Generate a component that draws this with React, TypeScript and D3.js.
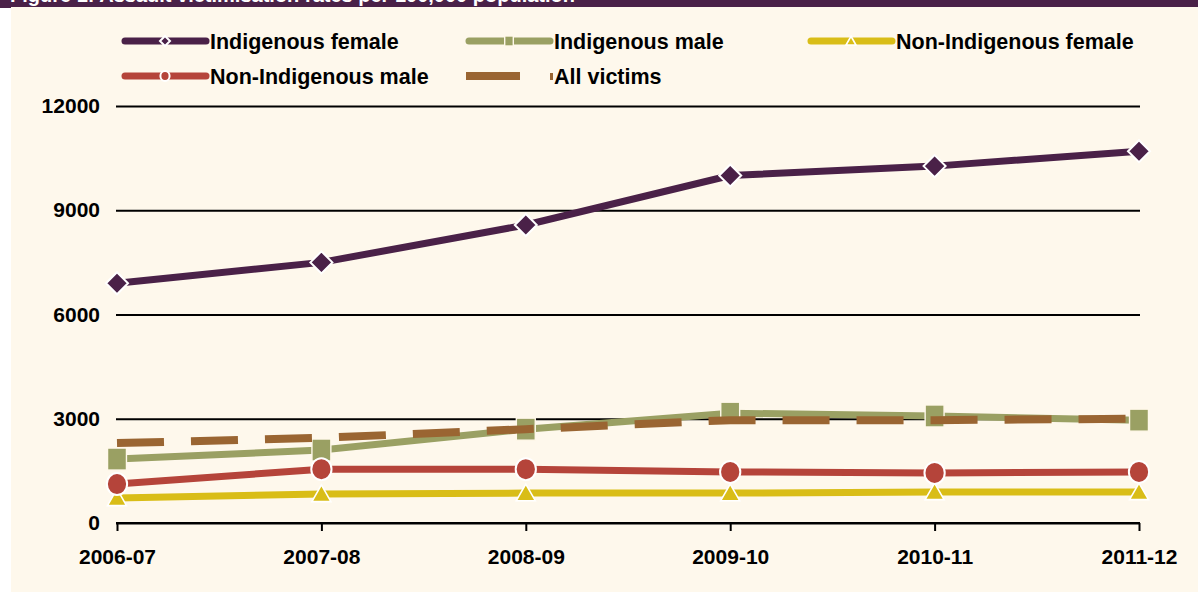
import { useRef, useEffect } from 'react';
import * as d3 from 'd3';

// values
const years = ['2006-07', '2007-08', '2008-09', '2009-10', '2010-11', '2011-12'];
const indigenousFemale = [6900, 7500, 8575, 10000, 10270, 10700];
const indigenousMale = [1840, 2100, 2700, 3160, 3080, 2960];
const nonIndigenousFemale = [720, 835, 860, 860, 890, 890];
const nonIndigenousMale = [1120, 1550, 1550, 1470, 1440, 1470];
const allVictims = [2300, 2450, 2700, 2960, 2960, 3000];
const yTicks = [0, 3000, 6000, 9000, 12000];

const seriesNames = ['Indigenous female', 'Indigenous male', 'Non-Indigenous female', 'Non-Indigenous male', 'All victims'];
const seriesValues = [indigenousFemale, indigenousMale, nonIndigenousFemale, nonIndigenousMale, allVictims];
const seriesColors = ['#4a2148', '#9aa063', '#d9bd17', '#b5443a', '#9a6532'];
const seriesMarkers = ['diamond', 'square', 'triangle', 'circle', 'none'];

const W = 1198;
const H = 592;
const FONT = '"Liberation Sans", Arial, sans-serif';

const drawMarker = (g, type, color, s, strokeW) => {
  if (type === 'diamond') {
    g.append('path').attr('d', `M0,${-s} L${s},0 L0,${s} L${-s},0 Z`)
      .attr('fill', color).attr('stroke', '#fff').attr('stroke-width', strokeW);
  } else if (type === 'square') {
    g.append('rect').attr('x', -s * 0.86).attr('y', -s).attr('width', s * 1.72).attr('height', s * 2)
      .attr('fill', color).attr('stroke', '#fff8ea').attr('stroke-width', strokeW * 0.7);
  } else if (type === 'circle') {
    g.append('ellipse').attr('rx', s * 0.92).attr('ry', s)
      .attr('fill', color).attr('stroke', '#fff').attr('stroke-width', strokeW);
  } else if (type === 'triangle') {
    g.append('path').attr('d', `M0,${-s * 0.95} L${s},${s * 0.8} L${-s},${s * 0.8} Z`)
      .attr('fill', color).attr('stroke', '#fff').attr('stroke-width', strokeW * 0.8);
  }
};

const App = () => {
  const svgRef = useRef();

  useEffect(() => {
    const svg = d3.select(svgRef.current);
    svg.selectAll('*').remove();

    // banner (title is cut off at the top in the source) + background
    svg.append('rect').attr('x', 0).attr('y', 0).attr('width', W).attr('height', 8).attr('fill', '#4a2148');
    svg.append('text')
      .attr('x', 10).attr('y', 2)
      .attr('fill', '#fff').attr('font-family', FONT).attr('font-size', 20).attr('font-weight', 'bold')
      .text('Figure 1: Assault victimisation rates per 100,000 population');
    svg.append('rect').attr('x', 11).attr('y', 7).attr('width', W - 11).attr('height', H - 7).attr('fill', '#fef8ec');

    const x = d3.scalePoint().domain(years).range([117, 1139]);
    const y = d3.scaleLinear().domain([0, 12000]).range([523, 106]);

    const chart = svg.append('g');

    // grid lines
    chart.append('g')
      .attr('transform', 'translate(116,0)')
      .call(d3.axisLeft(y).tickValues(yTicks).tickSize(-1024).tickFormat(() => ''))
      .call(g => g.select('.domain').remove())
      .selectAll('line').attr('stroke', '#000').attr('stroke-width', 2);

    // y labels
    chart.selectAll('.ylab').data(yTicks).enter().append('text')
      .attr('x', 100).attr('y', d => y(d) + 7)
      .attr('text-anchor', 'end')
      .attr('font-family', FONT).attr('font-size', 21).attr('font-weight', 'bold').attr('fill', '#000')
      .text(d => d);

    // x axis
    const xAxis = chart.append('g')
      .attr('transform', `translate(0,${y(0)})`)
      .call(d3.axisBottom(x).tickSize(8).tickSizeOuter(0).tickPadding(18));
    xAxis.select('.domain').attr('stroke', '#000').attr('stroke-width', 2).attr('d', 'M116,0H1140');
    xAxis.selectAll('line').attr('stroke', '#000').attr('stroke-width', 2);
    xAxis.selectAll('text')
      .attr('font-family', FONT).attr('font-size', 21).attr('font-weight', 'bold').attr('fill', '#000');

    const line = d3.line().x((d, i) => x(years[i])).y(d => y(d));

    seriesValues.forEach((vals, si) => {
      const color = seriesColors[si];
      const path = chart.append('path')
        .attr('d', line(vals))
        .attr('fill', 'none')
        .attr('stroke', color)
        .attr('stroke-width', 7);
      if (seriesMarkers[si] === 'none') {
        path.attr('stroke-dasharray', '47,27').attr('stroke-width', 8);
      }
      vals.forEach((v, i) => {
        const m = chart.append('g').attr('transform', `translate(${x(years[i])},${y(v)})`);
        drawMarker(m, seriesMarkers[si], color, seriesMarkers[si] === 'triangle' ? 9.5 : 11, 2);
      });
    });

    // legend
    const legendPos = [
      [122, 41], [466, 41], [808, 41],
      [122, 76], [466, 76],
    ];
    seriesNames.forEach((name, si) => {
      const [lx, ly] = legendPos[si];
      const color = seriesColors[si];
      const g = svg.append('g').attr('transform', `translate(${lx},${ly})`);
      if (seriesMarkers[si] === 'none') {
        g.append('rect').attr('x', 0).attr('y', -4).attr('width', 54).attr('height', 8).attr('fill', color);
        g.append('rect').attr('x', 84).attr('y', -3).attr('width', 3).attr('height', 7).attr('fill', color);
      } else {
        g.append('line').attr('x1', 3).attr('x2', 84).attr('y1', 0).attr('y2', 0)
          .attr('stroke', color).attr('stroke-width', 7).attr('stroke-linecap', 'round');
        const m = g.append('g').attr('transform', 'translate(43,0)');
        drawMarker(m, seriesMarkers[si], color, 5, 2);
      }
      g.append('text')
        .attr('x', 88).attr('y', 8)
        .attr('font-family', FONT).attr('font-size', 21.5).attr('font-weight', 'bold').attr('fill', '#000')
        .text(name);
    });
  }, []);

  return <svg ref={svgRef} width={W} height={H} style={{ position: 'absolute', left: 0, top: 0 }}></svg>;
};

export default App;
